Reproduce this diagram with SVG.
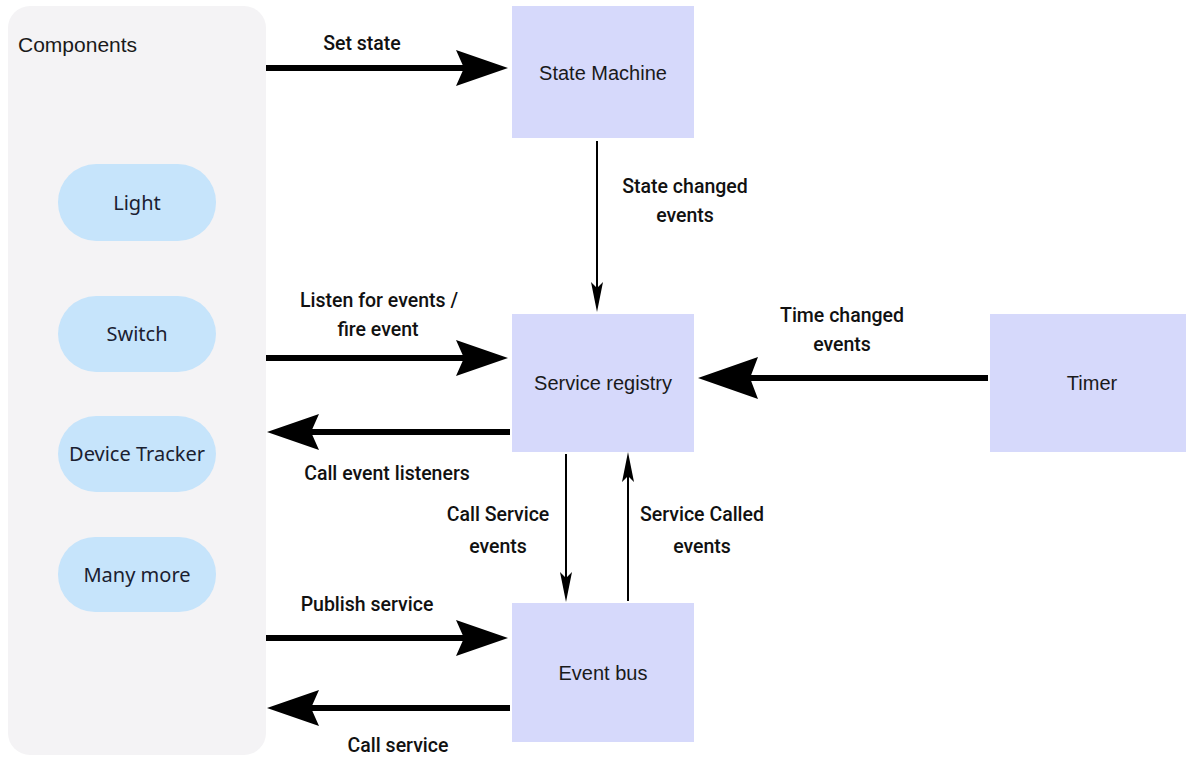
<svg xmlns="http://www.w3.org/2000/svg" width="1186" height="758" viewBox="0 0 1186 758">
<style>
.box{fill:#d6d9fb}
.pill{fill:#c6e4fb}
.nt{font-family:"Liberation Sans",Arial,sans-serif;font-size:20px;fill:#1a1a1a;text-anchor:middle}
.pt{font-family:"Noto Sans","Liberation Sans",sans-serif;font-size:20px;fill:#1a2030;text-anchor:middle}
.lb{font-family:Roboto,"Liberation Sans",sans-serif;font-weight:500;font-size:19.5px;fill:#111;text-anchor:middle}
.thick{stroke:#000;stroke-width:6;fill:none}
.thin{stroke:#000;stroke-width:2;fill:none}
</style>
<defs>
<marker id="bigHead" markerUnits="userSpaceOnUse" viewBox="-10 -20 56 40" refX="0" refY="0" markerWidth="56" markerHeight="40" orient="auto" overflow="visible">
<path d="M44,0 L-8,-18 L0,0 L-8,18 Z" fill="#000"/>
</marker>
<marker id="hugeHead" markerUnits="userSpaceOnUse" viewBox="-10 -24 66 48" refX="0" refY="0" markerWidth="66" markerHeight="48" orient="auto" overflow="visible">
<path d="M52,0 L-8,-21 L0,0 L-8,21 Z" fill="#000"/>
</marker>
<marker id="smallHead" markerUnits="userSpaceOnUse" viewBox="-10 -8 36 16" refX="0" refY="0" markerWidth="36" markerHeight="16" orient="auto" overflow="visible">
<path d="M24,0 L-6,-6 L0,0 L-6,6 Z" fill="#000"/>
</marker>
</defs>
<rect width="1186" height="758" fill="#ffffff"/>

<g id="components">
<rect x="8" y="6" width="258" height="749" rx="22" fill="#f4f3f5"/>
<text x="18" y="52" font-family="Liberation Sans,Arial,sans-serif" font-size="21" fill="#1a1a1a">Components</text>
</g>
<g id="light">
<rect class="pill" x="58" y="164" width="158" height="77" rx="38"/>
<text class="pt" x="137" y="210">Light</text>
</g>
<g id="switch">
<rect class="pill" x="58" y="296" width="158" height="76" rx="38"/>
<text class="pt" x="137" y="341">Switch</text>
</g>
<g id="device-tracker">
<rect class="pill" x="58" y="416" width="158" height="76" rx="38"/>
<text class="pt" x="137" y="461">Device Tracker</text>
</g>
<g id="many-more">
<rect class="pill" x="58" y="537" width="158" height="75" rx="37"/>
<text class="pt" x="137" y="582">Many more</text>
</g>

<g id="state-machine">
<rect class="box" x="512" y="6" width="182" height="132"/>
<text class="nt" x="603" y="80">State Machine</text>
</g>
<g id="service-registry">
<rect class="box" x="512" y="314" width="182" height="138"/>
<text class="nt" x="603" y="390">Service registry</text>
</g>
<g id="event-bus">
<rect class="box" x="512" y="603" width="182" height="139"/>
<text class="nt" x="603" y="680">Event bus</text>
</g>
<g id="timer">
<rect class="box" x="990" y="314" width="196" height="138"/>
<text class="nt" x="1092" y="390">Timer</text>
</g>

<g id="connectors">
<line class="thick" x1="266" y1="68" x2="464" y2="68" marker-end="url(#bigHead)"/>
<line class="thin" x1="597" y1="141" x2="597" y2="288" marker-end="url(#smallHead)"/>
<line class="thick" x1="266" y1="358" x2="464" y2="358" marker-end="url(#bigHead)"/>
<line class="thick" x1="510" y1="432" x2="311" y2="432" marker-end="url(#bigHead)"/>
<line class="thick" x1="988" y1="378" x2="750" y2="378" marker-end="url(#hugeHead)"/>
<line class="thin" x1="566" y1="454" x2="566" y2="578" marker-end="url(#smallHead)"/>
<line class="thin" x1="628" y1="601" x2="628" y2="476" marker-end="url(#smallHead)"/>
<line class="thick" x1="266" y1="638" x2="464" y2="638" marker-end="url(#bigHead)"/>
<line class="thick" x1="510" y1="708" x2="311" y2="708" marker-end="url(#bigHead)"/>

<text class="lb" x="362" y="50">Set state</text>
<text class="lb" x="685" y="193">State changed</text>
<text class="lb" x="685" y="222">events</text>
<text class="lb" x="379" y="307">Listen for events /</text>
<text class="lb" x="378" y="336">fire event</text>
<text class="lb" x="387" y="480">Call event listeners</text>
<text class="lb" x="842" y="322">Time changed</text>
<text class="lb" x="842" y="351">events</text>
<text class="lb" x="498" y="521">Call Service</text>
<text class="lb" x="498" y="553">events</text>
<text class="lb" x="702" y="521">Service Called</text>
<text class="lb" x="702" y="553">events</text>
<text class="lb" x="367" y="611">Publish service</text>
<text class="lb" x="398" y="752">Call service</text>
</g>
</svg>
